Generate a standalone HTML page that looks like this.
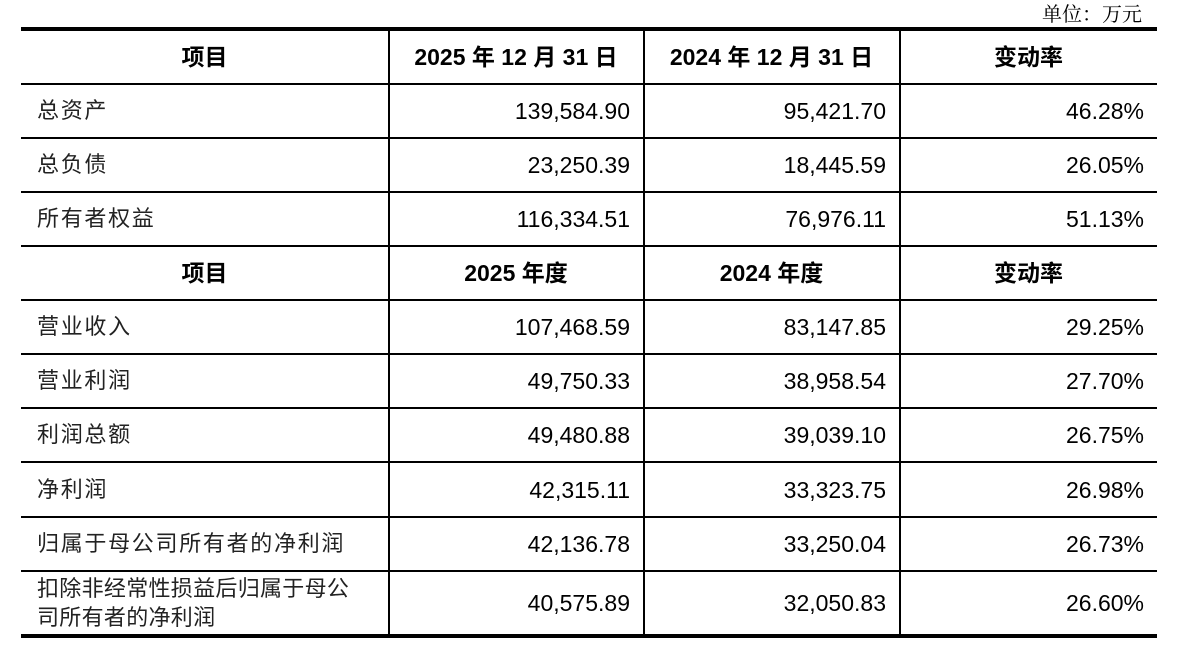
<!DOCTYPE html>
<html><head><meta charset="utf-8"><style>
body{margin:0;width:1186px;height:656px;background:#fff;position:relative;overflow:hidden;font-family:"Liberation Sans","Noto Sans CJK SC",sans-serif;color:#000}
.h{position:absolute;left:21px;width:1136px;height:2px;background:#000}
.v{position:absolute;top:29px;width:2px;height:607px;background:#000}
.t{position:absolute;font-size:23px;line-height:26px;white-space:nowrap}
.c{text-align:center}.r{text-align:right}
.b{font-weight:bold}
</style></head><body>
<div class="t" style="right:44px;top:0px;font-family:'Noto Serif CJK SC',serif;font-size:20px">单位：万元</div>
<div class="h" style="top:27px;height:4px"></div>
<div class="h" style="top:83px"></div>
<div class="h" style="top:137px"></div>
<div class="h" style="top:191px"></div>
<div class="h" style="top:245px"></div>
<div class="h" style="top:299px"></div>
<div class="h" style="top:353px"></div>
<div class="h" style="top:407px"></div>
<div class="h" style="top:461px"></div>
<div class="h" style="top:516px"></div>
<div class="h" style="top:570px"></div>
<div class="h" style="top:634px;height:4px"></div>
<div class="v" style="left:388px"></div>
<div class="v" style="left:643px"></div>
<div class="v" style="left:899px"></div>
<div id="rows"></div>
<script>
var rows=[
["项目","2025 年 12 月 31 日","2024 年 12 月 31 日","变动率",1,57],
["总资产","139,584.90","95,421.70","46.28%",0,111],
["总负债","23,250.39","18,445.59","26.05%",0,165],
["所有者权益","116,334.51","76,976.11","51.13%",0,219],
["项目","2025 年度","2024 年度","变动率",1,273],
["营业收入","107,468.59","83,147.85","29.25%",0,327],
["营业利润","49,750.33","38,958.54","27.70%",0,381],
["利润总额","49,480.88","39,039.10","26.75%",0,435],
["净利润","42,315.11","33,323.75","26.98%",0,490],
["归属于母公司所有者的净利润","42,136.78","33,250.04","26.73%",0,544],
["扣除非经常性损益后归属于母公<br>司所有者的净利润","40,575.89","32,050.83","26.60%",0,603]];
var cols=[[21,388],[389,643],[644,899],[900,1157]],h="";
rows.forEach(function(r){
 var two=r[0].indexOf("<br>")>0;
 for(var i=0;i<4;i++){
  var x=cols[i][0],w=cols[i][1]-x,cy=r[5];
  if(r[4]){h+='<div class="t c b" style="left:'+x+'px;width:'+w+'px;top:'+(cy-13)+'px">'+r[i]+'</div>';}
  else if(i==0){h+='<div class="t" style="left:37px;color:#222;top:'+(cy-(two?29:13))+'px;line-height:'+(two?'29px':'26px')+';font-size:22px;letter-spacing:'+(two?'0.3px':'1.7px')+'">'+r[i]+'</div>';}
  else{h+='<div class="t r" style="left:'+x+'px;width:'+(w-13)+'px;top:'+(cy-13)+'px">'+r[i]+'</div>';}
 }
});
document.getElementById("rows").innerHTML=h;
</script>
</body></html>
